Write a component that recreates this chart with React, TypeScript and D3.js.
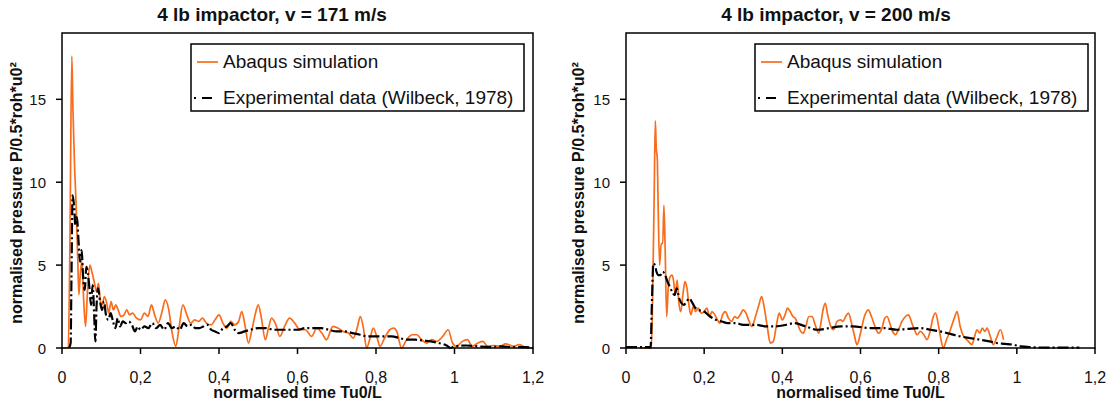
import React from "react";
import * as d3 from "d3";

// ---------- data ----------
const titles = ["4 lb impactor, v = 171 m/s", "4 lb impactor, v = 200 m/s"];
const seriesNames = ["Abaqus simulation", "Experimental data (Wilbeck, 1978)"];
const xTicks = [0, 0.2, 0.4, 0.6, 0.8, 1, 1.2];
const xTickLabels = ["0", "0,2", "0,4", "0,6", "0,8", "1", "1,2"];
const yTicks = [0, 5, 10, 15];
const xLabel = "normalised time Tu0/L";
const yLabel = "normalised pressure P/0.5*roh*u0²";

// [normalised time, normalised pressure]
const abaqus171: [number, number][] = [
  [0, 0], [0.016, 0], [0.02, 6], [0.025, 17.6], [0.028, 14.3], [0.032, 11], [0.036, 8.6], [0.04, 5.5],
  [0.043, 3.2], [0.047, 4.6], [0.051, 5.2], [0.055, 3.0], [0.06, 1.3], [0.065, 3.5], [0.071, 5.0],
  [0.076, 4.6], [0.082, 4.0], [0.088, 3.4], [0.093, 3.9], [0.098, 2.8], [0.102, 2.6], [0.108, 3.1],
  [0.114, 2.7], [0.119, 2.1], [0.125, 2.8], [0.131, 2.3], [0.137, 2.6], [0.143, 2.3], [0.15, 1.9],
  [0.158, 2.0], [0.165, 2.3], [0.172, 2.0], [0.18, 2.1], [0.19, 1.8], [0.2, 1.7], [0.21, 2.1],
  [0.219, 1.9], [0.228, 2.6], [0.236, 2.0], [0.245, 1.5], [0.255, 2.2], [0.263, 2.9], [0.272, 2.3],
  [0.28, 1.0], [0.29, 0.1], [0.298, 1.2], [0.308, 2.6], [0.318, 2.0], [0.328, 1.5], [0.338, 1.7],
  [0.348, 1.6], [0.358, 1.8], [0.368, 1.5], [0.38, 1.4], [0.39, 1.7], [0.4, 2.0], [0.41, 1.5],
  [0.42, 1.2], [0.43, 1.6], [0.44, 1.4], [0.45, 1.6], [0.458, 2.2], [0.466, 1.4], [0.475, 0.3],
  [0.483, 1.0], [0.492, 2.0], [0.5, 2.6], [0.508, 1.8], [0.518, 0.5], [0.526, 1.2], [0.534, 1.8],
  [0.545, 1.4], [0.555, 0.7], [0.567, 1.3], [0.58, 1.8], [0.593, 1.5], [0.606, 1.1], [0.62, 1.1],
  [0.636, 0.7], [0.649, 1.2], [0.662, 0.9], [0.674, 0.5], [0.69, 1.3], [0.703, 1.2], [0.716, 1.0],
  [0.73, 0.9], [0.742, 0.6], [0.752, 1.2], [0.76, 1.9], [0.768, 1.2], [0.776, 0.0], [0.785, 0.6],
  [0.793, 1.2], [0.802, 0.7], [0.81, 0.1], [0.822, 0.6], [0.835, 1.1], [0.845, 1.2], [0.853, 1.0],
  [0.865, 0.0], [0.878, 0.5], [0.892, 0.8], [0.904, 0.8], [0.916, 0.5], [0.929, 0.3], [0.942, 0.5],
  [0.955, 0.4], [0.97, 0.7], [0.984, 1.1], [0.995, 0.3], [1.005, 0.1], [1.02, 0.4], [1.033, 0.5],
  [1.045, 0.1], [1.06, 0.3], [1.072, 0.4], [1.085, 0.1], [1.1, 0.15], [1.115, 0.1], [1.13, 0.25],
  [1.15, 0.1], [1.165, 0.2], [1.18, 0.05], [1.2, 0.0],
];

const wilbeck171: [number, number][] = [
  [0.018, 0], [0.022, 0.3], [0.024, 4], [0.027, 9.2], [0.031, 8.5], [0.034, 7.4], [0.038, 7.9],
  [0.042, 6.5], [0.046, 5.2], [0.05, 5.9], [0.054, 4.2], [0.058, 3.5], [0.062, 4.9], [0.066, 4.5],
  [0.07, 3.6], [0.074, 2.6], [0.078, 3.8], [0.082, 2.0], [0.085, 0.4], [0.088, 2.5], [0.092, 3.6],
  [0.097, 2.8], [0.102, 2.3], [0.107, 2.8], [0.112, 2.0], [0.118, 1.7], [0.124, 2.1], [0.13, 1.6],
  [0.136, 1.2], [0.142, 1.8], [0.148, 1.3], [0.155, 1.6], [0.163, 1.5], [0.17, 1.6], [0.178, 1.4],
  [0.186, 1.0], [0.193, 1.3], [0.2, 1.1], [0.21, 1.3], [0.22, 1.2], [0.23, 1.5], [0.24, 1.2],
  [0.25, 1.4], [0.26, 1.1], [0.27, 1.5], [0.28, 1.2], [0.29, 1.3], [0.3, 1.1], [0.31, 1.5],
  [0.32, 1.3], [0.33, 1.4], [0.34, 1.2], [0.35, 1.2], [0.36, 1.3], [0.37, 1.4], [0.38, 1.1],
  [0.39, 1.0], [0.4, 0.9], [0.41, 1.2], [0.42, 1.3], [0.43, 1.5], [0.44, 1.1], [0.45, 0.9],
  [0.465, 1.0], [0.48, 1.1], [0.5, 1.2], [0.52, 1.2], [0.54, 1.1], [0.56, 1.1], [0.58, 1.1],
  [0.6, 1.1], [0.62, 1.2], [0.64, 1.2], [0.66, 1.2], [0.68, 1.1], [0.7, 1.0], [0.72, 1.0],
  [0.74, 0.9], [0.76, 0.8], [0.78, 0.7], [0.8, 0.7], [0.82, 0.7], [0.84, 0.7], [0.86, 0.6],
  [0.88, 0.5], [0.9, 0.5], [0.92, 0.45], [0.94, 0.4], [0.96, 0.3], [0.98, 0.15], [0.99, 0.0],
  [1.0, 0.1], [1.03, 0.15], [1.06, 0.1], [1.09, 0.05], [1.12, 0.1], [1.15, 0.05], [1.18, 0.05],
  [1.2, 0.0],
];

const abaqus200: [number, number][] = [
  [0.035, 0], [0.065, 0], [0.068, 3], [0.072, 9], [0.075, 13.7], [0.0775, 12.0], [0.08, 11.5],
  [0.082, 8.9], [0.086, 5.0], [0.09, 6.3], [0.094, 6.3], [0.097, 8.6], [0.1, 6.2], [0.104, 1.9],
  [0.108, 3.6], [0.113, 4.3], [0.118, 4.4], [0.122, 4.0], [0.126, 3.2], [0.131, 4.1], [0.135, 2.8],
  [0.14, 2.2], [0.146, 3.3], [0.151, 4.0], [0.156, 3.6], [0.161, 2.6], [0.166, 2.0], [0.172, 2.5],
  [0.178, 2.2], [0.185, 2.4], [0.192, 2.1], [0.2, 2.2], [0.207, 2.4], [0.214, 1.9], [0.22, 2.2],
  [0.227, 2.0], [0.234, 1.7], [0.24, 1.5], [0.247, 2.0], [0.254, 2.2], [0.262, 1.8], [0.27, 1.6],
  [0.278, 1.9], [0.285, 1.8], [0.292, 2.0], [0.3, 2.3], [0.307, 2.1], [0.315, 1.6], [0.322, 1.3],
  [0.33, 1.8], [0.34, 2.6], [0.347, 3.1], [0.354, 2.4], [0.362, 1.2], [0.369, 0.3], [0.377, 0.4],
  [0.385, 1.4], [0.392, 2.1], [0.4, 1.7], [0.407, 2.0], [0.413, 2.4], [0.42, 2.2], [0.427, 1.9],
  [0.433, 1.8], [0.44, 1.4], [0.447, 1.0], [0.454, 0.9], [0.46, 1.3], [0.468, 1.9], [0.476, 1.9],
  [0.484, 1.4], [0.493, 0.9], [0.5, 1.7], [0.505, 2.4], [0.51, 2.7], [0.516, 2.0], [0.524, 1.3],
  [0.531, 1.1], [0.54, 1.6], [0.549, 1.7], [0.555, 1.6], [0.562, 1.9], [0.569, 2.1], [0.577, 1.5],
  [0.584, 0.8], [0.591, 0.2], [0.6, 0.9], [0.61, 1.9], [0.62, 2.3], [0.628, 1.9], [0.637, 1.3],
  [0.646, 0.9], [0.655, 1.2], [0.662, 1.8], [0.668, 1.9], [0.675, 1.5], [0.682, 1.0], [0.689, 0.8],
  [0.697, 1.1], [0.706, 1.6], [0.715, 1.9], [0.723, 2.0], [0.73, 1.6], [0.738, 1.1], [0.745, 0.8],
  [0.753, 1.0], [0.762, 0.8], [0.77, 0.5], [0.778, 1.0], [0.785, 1.8], [0.792, 2.1], [0.8, 1.3],
  [0.806, 0.5], [0.812, 0.0], [0.82, 0.5], [0.83, 1.1], [0.84, 1.8], [0.847, 2.2], [0.855, 1.3],
  [0.862, 0.8], [0.868, 0.6], [0.876, 0.4], [0.885, 0.2], [0.892, 0.7], [0.898, 1.1], [0.905, 0.9],
  [0.912, 1.2], [0.918, 1.0], [0.924, 1.2], [0.932, 0.7], [0.94, 0.2], [0.948, 0.6], [0.958, 1.1],
  [0.966, 0.5],
];

const wilbeck200: [number, number][] = [
  [0, 0.05], [0.035, 0.05], [0.063, 0.05], [0.066, 2.5], [0.07, 5.1], [0.074, 5.0], [0.078, 4.6],
  [0.082, 4.4], [0.088, 4.4], [0.094, 4.6], [0.1, 4.4], [0.106, 4.0], [0.112, 3.7], [0.118, 3.4],
  [0.124, 3.2], [0.13, 3.6], [0.136, 3.0], [0.142, 2.7], [0.148, 2.6], [0.155, 2.8], [0.162, 3.0],
  [0.168, 2.8], [0.175, 2.5], [0.185, 2.3], [0.2, 2.2], [0.215, 1.9], [0.23, 1.7], [0.245, 1.6],
  [0.26, 1.5], [0.28, 1.5], [0.3, 1.4], [0.33, 1.4], [0.36, 1.3], [0.38, 1.3], [0.41, 1.4],
  [0.43, 1.5], [0.46, 1.3], [0.49, 1.1], [0.52, 1.2], [0.55, 1.3], [0.58, 1.3], [0.625, 1.2],
  [0.66, 1.2], [0.693, 1.1], [0.72, 1.15], [0.753, 1.2], [0.78, 1.1], [0.804, 1.0], [0.83, 0.85],
  [0.855, 0.7], [0.88, 0.6], [0.906, 0.5], [0.93, 0.4], [0.948, 0.3], [0.97, 0.25], [0.99, 0.2],
  [1.01, 0.1], [1.04, 0.05], [1.07, 0.02], [1.1, 0.02], [1.13, 0.02], [1.16, 0.02],
];

// ---------- drawing ----------
const FONT = "'Liberation Sans', Arial, Helvetica, sans-serif";
const ORANGE = "#f86c1c";
const INK = "#111";
const TOP = 33;
const BOTTOM = 348;
const Y_MAX = 19;

type PanelProps = {
  x0: number;
  x1: number;
  titleX: number;
  labelX: number;
  legendX: number;
  title: string;
  sim: [number, number][];
  exp: [number, number][];
};

function Panel({ x0, x1, titleX, labelX, legendX, title, sim, exp }: PanelProps) {
  const x = d3.scaleLinear().domain([0, 1.2]).range([x0, x1]);
  const y = d3.scaleLinear().domain([0, Y_MAX]).range([BOTTOM, TOP]);
  const line = d3
    .line<[number, number]>()
    .x((d) => x(d[0]))
    .y((d) => y(d[1]))
    .curve(d3.curveMonotoneX);
  const legW = 333;
  const legTop = 44;
  const legBot = 111;
  return (
    <g>
      <text x={titleX} y={21} textAnchor="middle" fontFamily={FONT} fontWeight="bold" fontSize={19} fill={INK}>
        {title}
      </text>
      <path d={line(sim) || ""} fill="none" stroke={ORANGE} strokeWidth={1.7} strokeLinejoin="round" />
      <path
        d={line(exp) || ""}
        fill="none"
        stroke="#000"
        strokeWidth={2.2}
        strokeDasharray="11,3,2,3"
      />
      {/* frame */}
      <rect x={x0} y={TOP} width={x1 - x0} height={BOTTOM - TOP} fill="none" stroke="#000" strokeWidth={1.5} />
      {/* x ticks */}
      {xTicks.map((t, i) => (
        <g key={"x" + i}>
          <line x1={x(t)} x2={x(t)} y1={BOTTOM} y2={BOTTOM + 6} stroke="#000" strokeWidth={1.5} />
          <text x={x(t)} y={383} textAnchor="middle" fontFamily={FONT} fontSize={16} fill={INK}>
            {xTickLabels[i]}
          </text>
        </g>
      ))}
      {/* y ticks */}
      {yTicks.map((t, i) => (
        <g key={"y" + i}>
          <line x1={x0 - 6} x2={x0} y1={y(t)} y2={y(t)} stroke="#000" strokeWidth={1.5} />
          <text x={x0 - 16} y={y(t) + 5.5} textAnchor="end" fontFamily={FONT} fontSize={15} fill={INK}>
            {String(t)}
          </text>
        </g>
      ))}
      <text x={(x0 + x1) / 2} y={398} textAnchor="middle" fontFamily={FONT} fontWeight="bold" fontSize={16} fill={INK}>
        {xLabel}
      </text>
      <text
        transform={`translate(${labelX},${193}) rotate(-90)`}
        textAnchor="middle"
        dominantBaseline="central"
        fontFamily={FONT}
        fontWeight="bold"
        fontSize={16}
        fill={INK}
      >
        {yLabel}
      </text>
      {/* legend */}
      <rect x={legendX} y={legTop} width={legW} height={legBot - legTop} fill="#fff" stroke="#000" strokeWidth={1.5} />
      <line x1={legendX + 6} x2={legendX + 27} y1={62} y2={62} stroke={ORANGE} strokeWidth={1.7} />
      <text x={legendX + 32} y={68} fontFamily={FONT} fontSize={19} fill={INK}>
        {seriesNames[0]}
      </text>
      <line x1={legendX + 3} x2={legendX + 5} y1={98} y2={98} stroke="#000" strokeWidth={2} />
      <line x1={legendX + 11} x2={legendX + 21} y1={98} y2={98} stroke="#000" strokeWidth={2} />
      <text x={legendX + 32} y={104} fontFamily={FONT} fontSize={19} fill={INK}>
        {seriesNames[1]}
      </text>
    </g>
  );
}

export default function App() {
  return (
    <svg
      width={1106}
      height={402}
      style={{ position: "absolute", left: 0, top: 0, background: "#fff" }}
    >
      <rect x={0} y={0} width={1106} height={402} fill="#fff" />
      <Panel x0={62} x1={533} titleX={272} labelX={16} legendX={191} title={titles[0]} sim={abaqus171} exp={wilbeck171} />
      <Panel x0={626} x1={1095} titleX={836} labelX={578} legendX={755} title={titles[1]} sim={abaqus200} exp={wilbeck200} />
    </svg>
  );
}
